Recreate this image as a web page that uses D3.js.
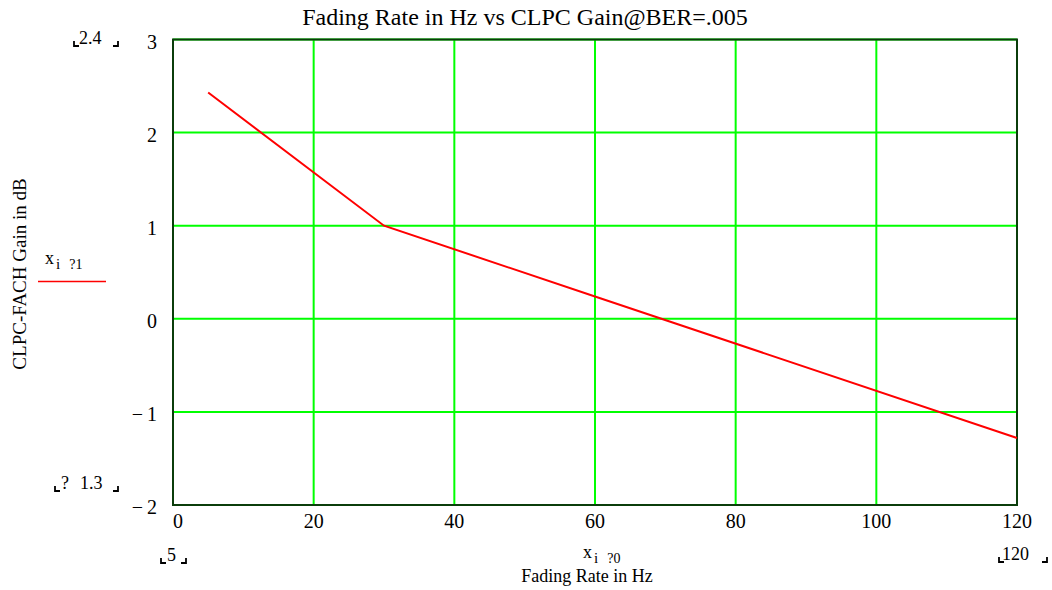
<!DOCTYPE html>
<html><head><meta charset="utf-8">
<script src="https://cdn.jsdelivr.net/npm/d3@7"></script>
<style>body{margin:0;background:#fff}svg{display:block}</style>
</head><body><svg id="c" width="1052" height="590" font-family="Liberation Serif, Times New Roman, serif"></svg>
<script>
const fadingRate = [5, 30, 60, 120];
const clpcGain = [2.43, 1.0, 0.24, -1.28];
const xTicks = [0, 20, 40, 60, 80, 100, 120];
const yTicks = [3, 2, 1, 0, -1, -2];
const title = "Fading Rate in Hz vs CLPC Gain@BER=.005";
const xLabel = "Fading Rate in Hz";
const yLabel = "CLPC-FACH Gain in dB";

const svg = d3.select("#c");
const L = 173, R = 1017, T = 39.5, B = 505;
const x = d3.scaleLinear().domain([0, 120]).range([L, R]);
const y = d3.scaleLinear().domain([-2, 3]).range([B, T]);

// grid
const g = svg.append("g");
g.selectAll(".gx").data(xTicks).join("line")
  .attr("x1", d => x(d)).attr("x2", d => x(d)).attr("y1", T).attr("y2", B)
  .attr("stroke", "#00ff00").attr("stroke-width", 2);
g.selectAll(".gy").data(yTicks).join("line")
  .attr("y1", d => y(d)).attr("y2", d => y(d)).attr("x1", L).attr("x2", R)
  .attr("stroke", "#00ff00").attr("stroke-width", 2);
// frame
svg.append("rect").attr("x", L).attr("y", T).attr("width", R - L).attr("height", B - T)
  .attr("fill", "none").attr("stroke", "#0b3d0b").attr("stroke-width", 2);

// data line
svg.append("path").datum(fadingRate.map((d, i) => [d, clpcGain[i]]))
  .attr("d", d3.line().x(d => x(d[0])).y(d => y(d[1])))
  .attr("fill", "none").attr("stroke", "#ff0000").attr("stroke-width", 2);

const fmt = d => d < 0 ? "\u2212\u2009" + Math.abs(d) : String(d);
// y tick labels
svg.selectAll(".yt").data(yTicks).join("text")
  .attr("x", 157).attr("y", d => y(d) + 9).attr("text-anchor", "end")
  .attr("font-size", 20).text(fmt);
// x tick labels
svg.selectAll(".xt").data(xTicks).join("text")
  .attr("x", d => x(d) + (d === 0 ? 5 : 0)).attr("y", 528).attr("text-anchor", "middle")
  .attr("font-size", 20).text(d => d);

// title
svg.append("text").attr("x", 525).attr("y", 25).attr("text-anchor", "middle")
  .attr("font-size", 24).text(title);
// axis labels
svg.append("text").attr("x", 587).attr("y", 582).attr("text-anchor", "middle")
  .attr("font-size", 18).text(xLabel);
svg.append("text").attr("transform", "translate(26,274) rotate(-90)").attr("text-anchor", "middle")
  .attr("font-size", 19).text(yLabel);

// corner-bracket limit annotations
function bracketed(lx, rx, by, parts) {
  const gg = svg.append("g");
  parts.forEach(p => gg.append("text").attr("x", p[0]).attr("y", by - 2)
    .attr("font-size", 18).text(p[1]));
  gg.append("path").attr("d", `M${lx},${by - 5}V${by}H${lx + 5}`)
    .attr("stroke", "#000").attr("stroke-width", 1.8).attr("fill", "none");
  gg.append("path").attr("d", `M${rx - 5},${by}H${rx}V${by - 5}`)
    .attr("stroke", "#000").attr("stroke-width", 1.8).attr("fill", "none");
}
bracketed(74, 118, 46, [[79, "2.4"]]);
bracketed(55, 118, 491, [[61, "?"], [80, "1.3"]]);
bracketed(161, 186, 563, [[167, "5"]]);
bracketed(999, 1047, 562, [[1002, "120"]]);

// legend (trace label)
const lg = svg.append("g");
const t1 = lg.append("text").attr("x", 45).attr("y", 264).attr("font-size", 18);
t1.append("tspan").text("x");
t1.append("tspan").attr("dx", 2).attr("dy", 5).attr("font-size", 15).text("i");
t1.append("tspan").attr("dx", 9).attr("font-size", 14).text("?1");
lg.append("line").attr("x1", 38).attr("x2", 106).attr("y1", 281.5).attr("y2", 281.5)
  .attr("stroke", "#ff0000").attr("stroke-width", 1.6);

const t0 = svg.append("text").attr("x", 583).attr("y", 558).attr("font-size", 18);
t0.append("tspan").text("x");
t0.append("tspan").attr("dx", 2).attr("dy", 5).attr("font-size", 15).text("i");
t0.append("tspan").attr("dx", 9).attr("font-size", 14).text("?0");
</script></body></html>
